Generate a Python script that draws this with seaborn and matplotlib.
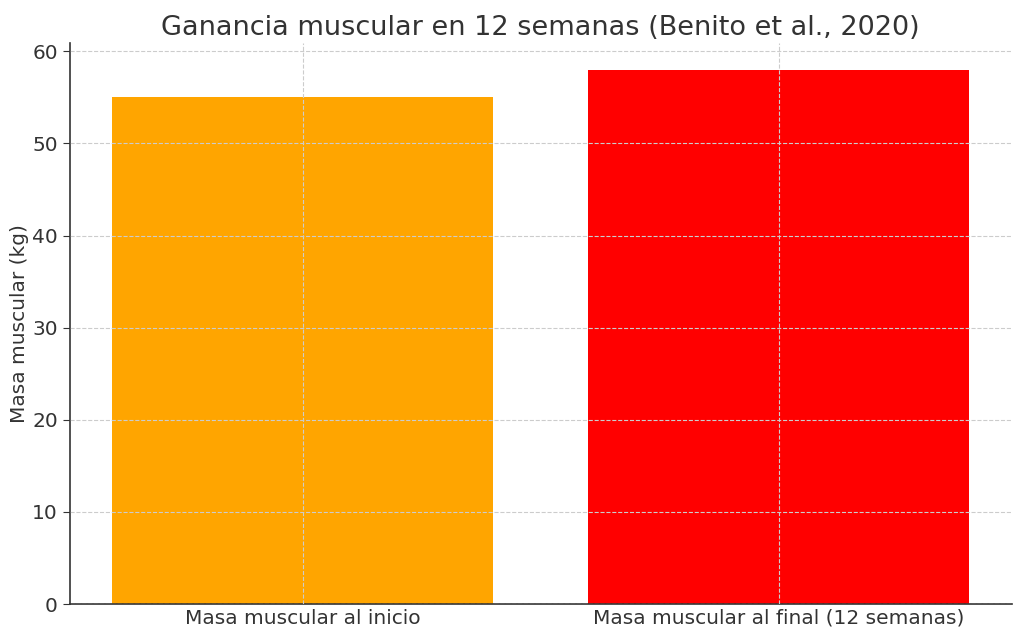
import matplotlib
matplotlib.use("Agg")
import matplotlib.pyplot as plt
import seaborn as sns
import pandas as pd

# datos
categorias = ["Masa muscular al inicio", "Masa muscular al final (12 semanas)"]
masa_kg = [55, 58]
colores = ["orange", "red"]

df = pd.DataFrame({"categoria": categorias, "masa": masa_kg})

sns.set_style("white")
plt.rcParams["font.family"] = ["DejaVu Sans"]

fig, ax = plt.subplots(figsize=(10.24, 6.42), dpi=100)
sns.barplot(data=df, x="categoria", y="masa", hue="categoria",
            palette=colores, saturation=1, width=0.8, legend=False,
            linewidth=0, ax=ax)

ax.set_xlim(-0.49, 1.49)
ax.set_ylim(0, 60.9)
ax.set_title("Ganancia muscular en 12 semanas (Benito et al., 2020)",
             fontsize=19.5, color="#333333")
ax.set_xlabel("")
ax.set_ylabel("Masa muscular (kg)", fontsize=14.5, color="#333333", labelpad=2)
ax.tick_params(axis="both", labelsize=14.5, colors="#333333")
ax.tick_params(axis="x", direction="in", length=5)
ax.tick_params(axis="y", direction="out", length=5, left=True)
ax.grid(True, linestyle="--", color="#cccccc", linewidth=0.8)
ax.set_axisbelow(False)
sns.despine(ax=ax)
for s in ["left", "bottom"]:
    ax.spines[s].set_color("#333333")
    ax.spines[s].set_linewidth(1.2)

fig.subplots_adjust(left=0.068, right=0.988, bottom=0.059, top=0.933)
fig.savefig("out.png", dpi=100)
